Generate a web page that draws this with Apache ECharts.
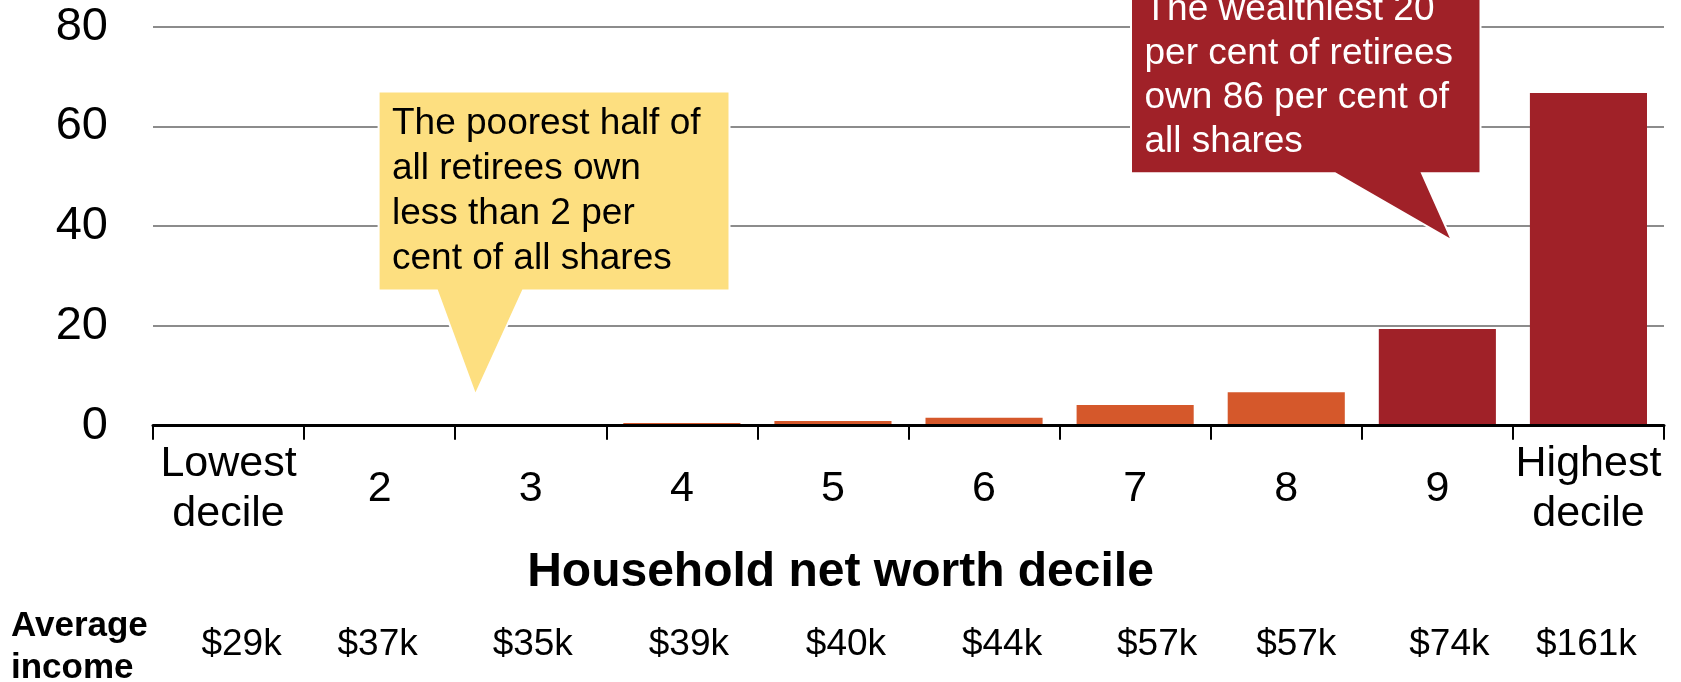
<!DOCTYPE html>
<html>
<head>
<meta charset="utf-8">
<script src="https://cdn.jsdelivr.net/npm/echarts@6/dist/echarts.min.js"></script>
<style>
html,body{margin:0;padding:0;background:#fff;}
#chart{width:1681px;height:682px;}
</style>
</head>
<body>
<div id="chart"></div>
<script>
// ---- data ----
var categories = ['Lowest\ndecile', '2', '3', '4', '5', '6', '7', '8', '9', 'Highest\ndecile'];
var shareValues = [0.03, 0.07, 0.25, 0.54, 0.94, 1.6, 4.15, 6.7, 19.4, 66.7];
var incomeLabels = ['$29k', '$37k', '$35k', '$39k', '$40k', '$44k', '$57k', '$57k', '$74k', '$161k'];
var yTicks = [0, 20, 40, 60, 80];
var topGroupStart = 8; // deciles 9 and 10 highlighted
var axisTitle = 'Household net worth decile';
var incomeTitle = 'Average\nincome';
var noteLow = 'The poorest half of\nall retirees own\nless than 2 per\ncent of all shares';
var noteHigh = 'The wealthiest 20\nper cent of retirees\nown 86 per cent of\nall shares';

// ---- styling (label nudges, px) ----
var incomeNudge = [13, -2, 2, 7, 13, 18, 22, 10, 12, -2];

var FONT = '"Liberation Sans", Arial, sans-serif';
var ORANGE = '#D5582B';
var RED = '#A02128';
var YELLOW = '#FDDF80';

var incomeRich = {};
incomeNudge.forEach(function (d, i) {
  incomeRich['p' + i] = {
    fontFamily: FONT, fontSize: 37, color: '#000',
    padding: d >= 0 ? [0, 0, 0, 2 * d] : [0, -2 * d, 0, 0]
  };
});

var chart = echarts.init(document.getElementById('chart'), null, {renderer: 'canvas'});

var option = {
  backgroundColor: '#ffffff',
  animation: false,
  textStyle: {fontFamily: FONT},
  title: [
    {
      text: axisTitle, left: 'center', top: 544, padding: 0,
      textStyle: {fontFamily: FONT, fontSize: 48, fontWeight: 'bold', color: '#000', lineHeight: 58}
    },
    {
      text: incomeTitle, left: 11, top: 605, padding: 0,
      textStyle: {fontFamily: FONT, fontSize: 35, fontWeight: 'bold', color: '#000', lineHeight: 42}
    }
  ],
  grid: {left: 153, right: 17, top: 26.7, bottom: 256.3, containLabel: false},
  xAxis: [
    {
      type: 'category', position: 'bottom', data: categories,
      axisLine: {show: true, lineStyle: {color: '#000', width: 3}},
      axisTick: {show: true, alignWithLabel: false, length: 14, lineStyle: {color: '#000', width: 2}},
      axisLabel: {color: '#000', fontFamily: FONT, fontSize: 43, lineHeight: 50, margin: 63, verticalAlign: 'middle', interval: 0},
      splitLine: {show: false},
      z: 5
    },
    {
      type: 'category', position: 'bottom', data: incomeLabels,
      axisLine: {show: false}, axisTick: {show: false},
      axisLabel: {
        color: '#000', fontFamily: FONT, fontSize: 37, margin: 219, verticalAlign: 'middle', interval: 0,
        formatter: function (value, index) { return '{p' + index + '|' + value + '}'; },
        rich: incomeRich
      },
      splitLine: {show: false}
    }
  ],
  yAxis: {
    type: 'value', min: yTicks[0], max: yTicks[yTicks.length - 1], interval: yTicks[1] - yTicks[0],
    axisLine: {show: false}, axisTick: {show: false},
    axisLabel: {color: '#000', fontFamily: FONT, fontSize: 47, margin: 45},
    splitLine: {show: true, lineStyle: {color: '#8c8c8c', width: 2}}
  },
  series: [
    {
      type: 'bar', xAxisIndex: 0,
      data: shareValues.map(function (v, i) {
        return {value: v, itemStyle: {color: i >= topGroupStart ? RED : ORANGE}};
      }),
      barCategoryGap: '22.5%',
      z: 2
    }
  ],
  graphic: [
    {
      type: 'polygon', z: 100, zlevel: 0,
      shape: {points: [[378.6, 91.5], [729.5, 91.5], [729.5, 290.5], [523, 290.5], [475.4, 395], [437, 290.5], [378.6, 290.5]]},
      style: {fill: YELLOW, stroke: '#fff', lineWidth: 2}
    },
    {
      type: 'text', z: 101, zlevel: 0,
      style: {text: noteLow, x: 392, y: 101, fill: '#000', fontFamily: FONT, fontSize: 37, lineHeight: 45, verticalAlign: 'top', align: 'left'}
    },
    {
      type: 'polygon', z: 100, zlevel: 0,
      shape: {points: [[1131, -5], [1480.5, -5], [1480.5, 173.3], [1422, 173.3], [1452, 240.5], [1335, 173.3], [1131, 173.3]]},
      style: {fill: RED, stroke: '#fff', lineWidth: 2}
    },
    {
      type: 'text', z: 101, zlevel: 0,
      style: {text: noteHigh, x: 1144.5, y: -12.3, fill: '#fff', fontFamily: FONT, fontSize: 37, lineHeight: 44, verticalAlign: 'top', align: 'left'}
    }
  ]
};

chart.setOption(option);
</script>
</body>
</html>
